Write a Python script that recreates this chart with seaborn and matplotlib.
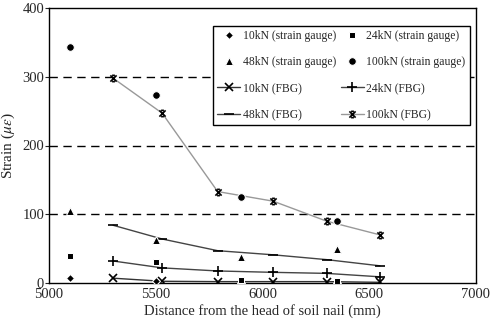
import numpy as np
import pandas as pd
import matplotlib
matplotlib.use("Agg")
import matplotlib.pyplot as plt
from matplotlib.path import Path
import seaborn as sns

# ---- data ----
sg_x = [5100, 5500, 5900, 6350]
sg_10 = [8, 3, 0, 0]
sg_24 = [39, 30, 5, 3]
sg_48 = [105, 62, 38, 50]
sg_100 = [344, 273, 125, 90]

fbg_x = [5300, 5530, 5790, 6050, 6300, 6550]
fbg_10 = [7, 2.5, 2, 2, 2, 1]
fbg_24 = [32, 22, 17.5, 15.5, 14, 9]
fbg_48 = [84, 64, 47, 41, 34, 25]
fbg_100 = [298, 247, 133, 119, 90, 70]

x_ticks = [5000, 5500, 6000, 6500, 7000]
y_ticks = [0, 100, 200, 300, 400]

sns.set_style("white")
plt.rcParams['font.family'] = ['Liberation Serif', 'DejaVu Serif']
plt.rcParams['mathtext.fontset'] = 'stix'

fig = plt.figure(figsize=(4.91, 3.23), dpi=100)
ax = fig.add_axes([49/491, 1-283/323, (476-49)/491, (283-8)/323])

# asterisk-like marker: X with short horizontal caps
star_path = Path(
    [(-1, -1), (1, 1), (-1, 1), (1, -1), (-0.45, 1), (0.45, 1), (-0.45, -1), (0.45, -1)],
    [Path.MOVETO, Path.LINETO, Path.MOVETO, Path.LINETO,
     Path.MOVETO, Path.LINETO, Path.MOVETO, Path.LINETO])

for y in [100, 200, 300]:
    ax.axhline(y, color='black', ls=(0, (6, 4)), lw=1.0, zorder=1)

sg = [(sg_10, 'D', 4, '10kN (strain gauge)'),
      (sg_24, 's', 5, '24kN (strain gauge)'),
      (sg_48, '^', 6, '48kN (strain gauge)'),
      (sg_100, 'o', 5.5, '100kN (strain gauge)')]
for vals, m, s, lab in sg:
    df = pd.DataFrame({'x': sg_x, 'y': vals})
    sns.lineplot(data=df, x='x', y='y', ax=ax, marker=m, markersize=s,
                 color='black', linestyle='none', label=lab, zorder=3)

fb = [(fbg_10, 'x', 6, '#333333', 'full', '10kN (FBG)'),
      (fbg_24, '+', 7, '#444444', 'full', '24kN (FBG)'),
      (fbg_48, '_', 7, '#444444', 'full', '48kN (FBG)'),
      (fbg_100, star_path, 4.5, '#999999', 'none', '100kN (FBG)')]
for vals, m, s, c, fs, lab in fb:
    df = pd.DataFrame({'x': fbg_x, 'y': vals})
    sns.lineplot(data=df, x='x', y='y', ax=ax, marker=m, markersize=s,
                 color=c, mec='black', fillstyle=fs, mew=1.2, lw=1.0,
                 label=lab, zorder=2)

ax.set_xlim(5000, 7000)
ax.set_ylim(0, 400)
ax.set_xticks(x_ticks)
ax.set_yticks(y_ticks)
ax.tick_params(axis='both', labelsize=10.5, length=3, direction='out',
               left=True, bottom=False, pad=0.5)
ax.set_xlabel('Distance from the head of soil nail (mm)', fontsize=10.5, labelpad=2)
ax.set_ylabel(r'Strain ($\mu\varepsilon$)', fontsize=11, labelpad=4)
for sp in ax.spines.values():
    sp.set_color('black')
    sp.set_linewidth(1.0)

handles, labels = ax.get_legend_handles_labels()
# column 1 = 10SG, 48SG, 10FBG, 48FBG; column 2 = 24SG, 100SG, 24FBG, 100FBG
idx = [0, 2, 4, 6, 1, 3, 5, 7]
h = [handles[i] for i in idx]
l = [labels[i] for i in idx]
leg = ax.legend(h, l, ncol=2, loc='upper left', bbox_to_anchor=((213-49)/427, 1-(26-8)/275),
                fontsize=8.4, frameon=True, fancybox=False, framealpha=1,
                edgecolor='black', handlelength=2.0, handletextpad=0.2,
                columnspacing=0.4, labelspacing=1.22, borderpad=0.35,
                borderaxespad=0)
leg.get_frame().set_linewidth(1.0)

fig.savefig('out.png', dpi=100)
